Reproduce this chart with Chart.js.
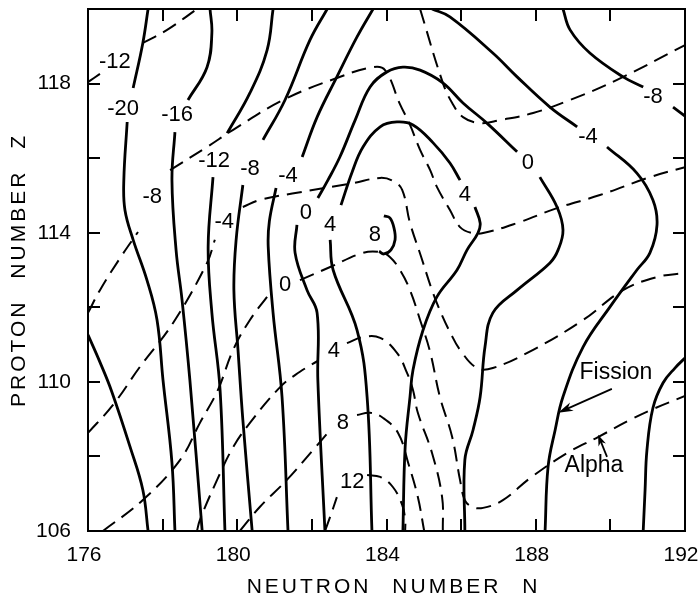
<!DOCTYPE html>
<html><head><meta charset="utf-8">
<style>html,body{margin:0;padding:0;background:#fff;} canvas{display:block;}</style>
<script src="https://cdn.jsdelivr.net/npm/chart.js@4.4.1/dist/chart.umd.min.js"></script>
</head><body>
<canvas id="c" width="698" height="596"></canvas>
<script>
// ---- axes ----
const N_TICK_LABELS = [176, 180, 184, 188, 192];
const Z_TICK_LABELS = [106, 110, 114, 118];
const N_TICK_MARKS = [178, 180, 182, 184, 186, 188, 190];
const Z_TICK_MARKS = [108, 110, 112, 114, 116, 118];

// ---- fission contours (solid), [N, Z]; null = gap for label ----
const FIS_M24 = [[176.00,111.26],[176.32,110.53],[176.64,109.73],[177.13,108.25],[177.47,107.10],[177.61,106.00]];
const FIS_M20 = [[177.61,120.00],[177.47,119.09],[177.21,117.88],null,[177.05,116.97],[176.96,115.41],[176.99,114.61],[177.21,113.81],[177.58,112.73],[177.85,111.66],[178.01,110.05],[178.25,107.83],[178.33,106.00]];
const FIS_M16 = [[179.27,120.00],[179.32,119.36],[179.19,118.44],[178.68,117.56],null,[178.33,116.70],[178.25,115.41],[178.36,113.54],[178.52,112.20],[178.73,110.05],[179.06,106.00]];
const FIS_M12 = [[180.96,120.00],[180.80,118.90],[180.34,117.75],[179.73,116.67],null,[179.35,115.49],[179.22,113.62],[179.32,111.85],[179.54,109.78],[179.67,106.00]];
const FIS_M8 = [[182.41,120.00],[181.95,119.17],[181.28,117.56],[180.69,116.49],null,[180.15,115.28],[179.97,113.81],[179.91,112.46],[180.02,110.86],[180.15,108.98],[180.40,106.00]];
const FIS_M4 = [[183.64,120.00],[183.21,119.25],[182.67,118.18],[182.14,117.10],[181.74,116.03],null,[181.04,115.20],[180.86,114.30],[180.83,113.62],[180.96,111.85],[181.20,109.60],[181.36,106.00]];
const FIS_0 = [[182.35,106.00],[182.16,110.05],[182.14,111.85],[181.87,112.46],[181.55,113.46],[181.60,114.21],null,[182.16,114.93],[182.43,115.41],[182.75,116.03],[183.16,117.02],[183.56,117.91],[184.01,118.31],[184.44,118.44],[184.90,118.36],[185.51,118.02],[186.05,117.48],[186.69,116.94],[187.50,116.17],null,[188.11,115.49],[188.57,114.69],[188.73,114.07],[188.60,113.54],[188.38,113.19],[187.50,112.46],[186.85,111.85],[186.64,110.94],[186.51,109.60],[186.32,108.71],[186.10,107.91],[186.10,106.00]];
const FIS_4 = [[183.61,106.00],[183.48,109.60],[183.21,111.39],[182.57,113.00],[182.49,113.81],null,[182.78,114.74],[183.08,115.63],[183.37,116.30],[183.83,116.84],[184.28,116.97],[184.71,116.89],[185.25,116.41],[185.70,115.87],[185.97,115.41],null,[186.37,114.69],[186.51,114.26],[186.45,113.99],[186.16,113.54],[185.89,113.00],[185.35,112.28],[184.98,111.39],[184.71,110.32],[184.63,109.60],[184.50,108.25],[184.44,106.00]];
const FIS_8 = [[183.93,114.45],[184.09,114.40],[184.20,114.13],[184.23,113.81],[184.12,113.54],[183.93,113.43],[183.80,113.50]];
const FIS_M4R = [[185.22,120.00],[185.70,119.79],[186.85,118.82],[187.50,118.18],[188.38,117.37],[189.11,116.84],null,[189.91,116.30],[190.71,115.60],[191.14,114.88],[191.25,114.21],[191.06,113.46],[190.71,113.00],[189.99,112.01],[189.27,110.94],[188.73,109.60],[188.52,108.71],[188.33,107.72],[188.25,106.00]];
const FIS_M8R = [[188.73,120.00],[188.92,119.44],[189.45,118.82],[190.34,118.18],[190.88,117.91],null,[191.68,117.37],[192.00,117.13]];
const FIS_M8B = [[190.88,106.00],[190.93,107.10],[190.98,108.17],[191.14,109.30],[191.41,109.97],[191.73,110.37],[192.00,110.64]];

// ---- alpha contours (dashed) ----
const ALP_M12 = [[176.00,118.04],[176.32,118.26],null,[177.47,119.09],[178.12,119.44],[178.92,120.00]];
const ALP_M12R = [[184.90,120.00],[185.51,118.02],[185.76,117.48],[186.05,117.10],[186.51,116.94],[187.04,117.02],[187.93,117.21],[188.92,117.56],[190.18,118.10],[192.00,119.03]];
const ALP_M8 = [[176.00,111.85],[176.32,112.46],[176.86,113.32],[177.34,114.02],null,[178.20,115.68],[179.19,116.30],[179.89,116.76],[181.23,117.56],[182.67,118.15],[183.64,118.44],[183.96,118.36],[184.36,117.45],[184.63,116.89],[184.90,116.22],[185.17,115.68],[185.35,115.23],[185.70,114.61],[185.97,114.15],[186.29,113.99],[186.59,113.99],[187.50,114.26],[188.57,114.66],[189.72,115.01],[191.06,115.49],[192.00,115.76]];
const ALP_M4 = [[176.00,108.63],[176.67,109.38],[177.39,110.40],[178.28,111.58],[179.19,113.19],[179.40,113.81],null,[180.15,114.69],[180.61,114.88],[181.60,115.07],[183.10,115.33],[183.83,115.47],[184.17,115.39],[184.42,115.15],[184.63,114.26],[184.93,113.35],[185.22,112.46],[185.46,111.85],[185.70,111.34],[185.97,110.86],[186.43,110.37],[186.85,110.37],[187.93,110.86],[189.27,111.66],[190.34,112.46],[191.25,112.81],[192.00,112.92]];
const ALP_0 = [[176.40,106.00],[177.47,106.83],[178.47,107.91],[179.00,108.90],[179.48,109.78],[179.89,110.86],[180.34,111.66],[180.80,112.28],null,[181.68,112.73],[182.49,113.08],[183.37,113.46],[183.83,113.48],[184.09,113.35],[184.36,113.00],[184.63,112.46],[184.90,111.66],[185.17,110.80],[185.43,109.60],[185.76,108.52],[185.97,107.37],[186.10,106.83],[186.29,106.65],[186.59,106.62],[187.12,106.83],[187.85,107.42],[188.84,108.09],[189.67,108.52],[190.53,108.98],[191.14,109.27],[192.00,109.62]];
const ALP_4 = [[178.92,106.00],[179.00,106.30],[179.46,107.37],[179.89,108.25],[180.34,108.90],[181.15,109.86],[181.68,110.27],[182.16,110.56],null,[182.94,111.04],[183.37,111.20],[183.83,111.18],[184.28,110.78],[184.55,110.24],[184.71,109.78],[184.84,109.17],[185.22,108.09],[185.49,106.91],[185.51,106.00]];
const ALP_8 = [[180.07,106.00],[180.61,106.65],[181.33,107.37],[182.03,108.17],[182.49,108.71],null,[183.21,109.11],[183.56,109.17],[183.91,109.03],[184.31,108.63],[184.58,107.83],[184.84,106.91],[185.01,106.00]];
const ALP_12 = [[182.35,106.00],[182.49,106.38],[182.67,106.91],null,[183.48,107.50],[183.83,107.45],[184.17,107.18],[184.42,106.70],[184.50,106.30],[184.50,106.00]];

// ---- contour labels [text, N, Z] ----
const FIS_LABELS = [['-20',176.94,117.32],['-16',178.39,117.16],['-12',179.38,115.92],['-8',180.34,115.71],['-4',181.36,115.52],['0',181.84,114.53],['4',182.49,114.21],['8',183.69,113.94],['4',186.10,115.01],['0',187.79,115.87],['-4',189.40,116.57],['-8',191.14,117.64]];
const ALP_LABELS = [['-12',176.72,118.58],['-8',177.72,114.96],['-4',179.65,114.29],['0',181.28,112.60],['4',182.59,110.83],['8',182.83,108.90],['12',183.08,107.32]];

// ---- annotations ----
const NOTE_TEXT = ['Fission', 'Alpha'];
const NOTE_POS = [[190.15,110.24],[189.56,107.74]];
const ARROW_FROM = [[190.04,109.81],[189.91,107.99]];
const ARROW_TO = [[188.60,109.17],[189.67,108.58]];

const X_TITLE = 'NEUTRON NUMBER N';
const Y_TITLE = 'PROTON NUMBER Z';

const FISSION = [FIS_M24, FIS_M20, FIS_M16, FIS_M12, FIS_M8, FIS_M4, FIS_0, FIS_4, FIS_8, FIS_M4R, FIS_M8R, FIS_M8B];
const ALPHA = [ALP_M12, ALP_M12R, ALP_M8, ALP_M4, ALP_0, ALP_4, ALP_8, ALP_12];

function segments(arr) {
  const out = []; let cur = [];
  for (const p of arr) {
    if (p === null) { if (cur.length) out.push(cur); cur = []; }
    else cur.push({ x: p[0], y: p[1] });
  }
  if (cur.length) out.push(cur);
  return out;
}

const datasets = [];
FISSION.forEach(c => segments(c).forEach(seg => datasets.push({
  data: seg, showLine: true, borderColor: '#000', borderWidth: 2.8, pointRadius: 0,
  tension: 0.4, fill: false, borderDash: []
})));
ALPHA.forEach(c => segments(c).forEach(seg => datasets.push({
  data: seg, showLine: true, borderColor: '#000', borderWidth: 2, pointRadius: 0,
  tension: 0.4, fill: false, borderDash: [15, 8]
})));

const FONT = "'Liberation Sans', Arial, sans-serif";

function arrow(ctx, x0, y0, x1, y1, len, half) {
  const ang = Math.atan2(y1 - y0, x1 - x0);
  ctx.beginPath(); ctx.moveTo(x0, y0); ctx.lineTo(x1 - Math.cos(ang) * len * 0.6, y1 - Math.sin(ang) * len * 0.6); ctx.stroke();
  ctx.beginPath();
  ctx.moveTo(x1, y1);
  ctx.lineTo(x1 - Math.cos(ang) * len + Math.sin(ang) * half, y1 - Math.sin(ang) * len - Math.cos(ang) * half);
  ctx.lineTo(x1 - Math.cos(ang) * len * 0.7, y1 - Math.sin(ang) * len * 0.7);
  ctx.lineTo(x1 - Math.cos(ang) * len - Math.sin(ang) * half, y1 - Math.sin(ang) * len + Math.cos(ang) * half);
  ctx.closePath(); ctx.fill();
}

const overlay = {
  id: 'overlay',
  beforeDraw(chart) {
    const c = chart.ctx; c.save(); c.fillStyle = '#fff'; c.fillRect(0, 0, chart.width, chart.height); c.restore();
  },
  afterDatasetsDraw(chart) {
    const { ctx, chartArea: a, scales: { x, y } } = chart;
    ctx.save();
    ctx.strokeStyle = '#000'; ctx.fillStyle = '#000';
    ctx.lineWidth = 2;
    ctx.strokeRect(a.left, a.top, a.right - a.left, a.bottom - a.top);
    const T = 12;
    ctx.beginPath();
    N_TICK_MARKS.forEach(v => {
      const p = Math.round(x.getPixelForValue(v));
      ctx.moveTo(p, a.bottom); ctx.lineTo(p, a.bottom - T);
      ctx.moveTo(p, a.top); ctx.lineTo(p, a.top + T);
    });
    Z_TICK_MARKS.forEach(v => {
      const p = Math.round(y.getPixelForValue(v));
      ctx.moveTo(a.left, p); ctx.lineTo(a.left + T, p);
      ctx.moveTo(a.right, p); ctx.lineTo(a.right - T, p);
    });
    ctx.stroke();

    ctx.font = '22px ' + FONT;
    ctx.textAlign = 'center'; ctx.textBaseline = 'middle';
    FIS_LABELS.concat(ALP_LABELS).forEach(([t, n, z]) => ctx.fillText(t, x.getPixelForValue(n), y.getPixelForValue(z)));

    ctx.font = '23px ' + FONT;
    NOTE_TEXT.forEach((t, i) => ctx.fillText(t, x.getPixelForValue(NOTE_POS[i][0]), y.getPixelForValue(NOTE_POS[i][1])));

    ctx.lineWidth = 1.8;
    ARROW_FROM.forEach((f, i) => {
      const t = ARROW_TO[i];
      arrow(ctx, x.getPixelForValue(f[0]), y.getPixelForValue(f[1]), x.getPixelForValue(t[0]), y.getPixelForValue(t[1]), i === 0 ? 15 : 11, i === 0 ? 4.5 : 4);
    });

    // axis titles
    ctx.font = '21px ' + FONT;
    try { ctx.letterSpacing = '3px'; ctx.wordSpacing = '12px'; } catch (e) {}
    ctx.textAlign = 'center'; ctx.textBaseline = 'alphabetic';
    ctx.fillText(X_TITLE, (a.left + a.right) / 2 + 7, chart.height - 3);
    ctx.translate(25, (a.top + a.bottom) / 2);
    ctx.rotate(-Math.PI / 2);
    ctx.fillText(Y_TITLE, 0, 0);
    ctx.restore();
  }
};

new Chart(document.getElementById('c'), {
  type: 'scatter',
  data: { datasets },
  plugins: [overlay],
  options: {
    responsive: false, animation: false, events: [],
    layout: { padding: { left: 0, right: 13, top: 9, bottom: 0 } },
    plugins: { legend: { display: false }, tooltip: { enabled: false }, title: { display: false } },
    scales: {
      x: {
        type: 'linear', min: 176, max: 192, position: 'bottom',
        afterBuildTicks: s => { s.ticks = N_TICK_LABELS.map(v => ({ value: v })); },
        ticks: { color: '#000', font: { family: FONT, size: 21 }, padding: 12, maxRotation: 0, autoSkip: false, labelOffset: -4 },
        grid: { display: false, drawTicks: false },
        border: { display: false },
        afterFit: s => { s.height = 65; s.paddingLeft = 0; s.paddingRight = 0; }
      },
      y: {
        type: 'linear', min: 106, max: 120, position: 'left',
        afterBuildTicks: s => { s.ticks = Z_TICK_LABELS.map(v => ({ value: v })); },
        ticks: { color: '#000', font: { family: FONT, size: 21 }, padding: 17, autoSkip: false },
        grid: { display: false, drawTicks: false },
        border: { display: false },
        afterFit: s => { s.width = 88; s.paddingTop = 0; s.paddingBottom = 0; }
      }
    }
  }
});
</script>
</body></html>
